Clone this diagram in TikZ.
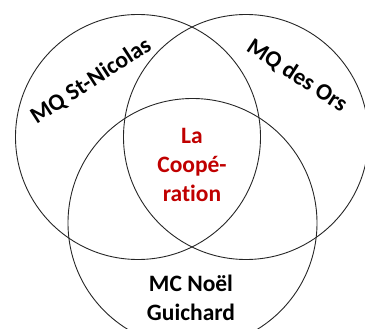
\documentclass[tikz,border=0pt]{standalone}
\usepackage{fontspec}
\setmainfont{Carlito}[Ligatures=NoCommon]
\definecolor{coopred}{HTML}{C00000}
\begin{document}
\begin{tikzpicture}[x=1pt,y=-1pt,
  ring/.style={draw=black!85, line width=0.9pt},
  lbl/.style={font=\bfseries\fontsize{23.5}{29}\selectfont, align=center, inner sep=0pt},
  redlbl/.style={lbl, text=coopred}]
\useasboundingbox (0,0) rectangle (365,329);
\clip (0,0) rectangle (365,329);
\draw[ring] (138,137) circle[radius=122.5pt];
\draw[ring] (246,137) circle[radius=122.5pt];
\draw[ring] (192.5,223) circle[radius=124.5pt];
\node[lbl, rotate=33] (stn) at (91,81) {MQ St-Nicolas};
\node[lbl, rotate=-33] (ors) at (297,76) {MQ des Ors};
\node[redlbl] (coop) at (192,165) {La\\Coopé-\\ration};
\node[lbl] (noel) at (191,298) {MC Noël\\Guichard};
\end{tikzpicture}
\end{document}
